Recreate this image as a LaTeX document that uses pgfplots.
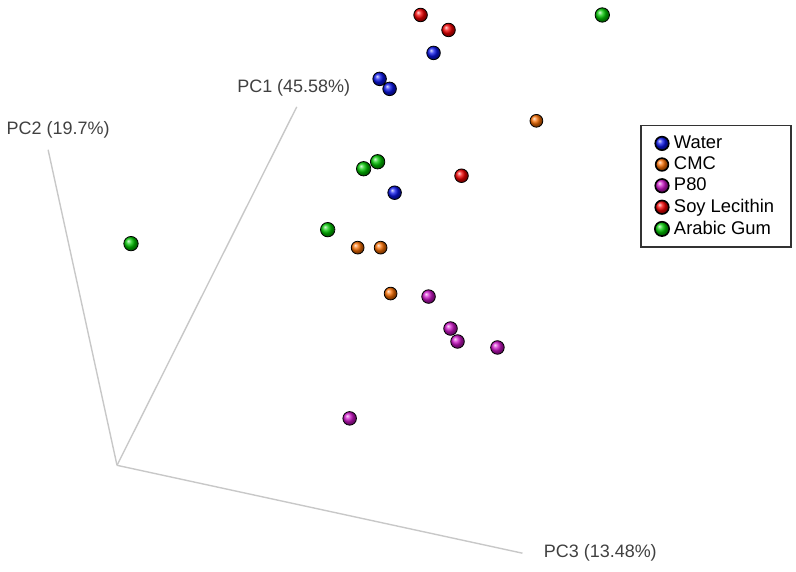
\documentclass[border=0pt]{standalone}
\usepackage{fontspec}
\setmainfont{Liberation Sans}
\usepackage{pgfplots}
\pgfplotsset{compat=1.18}
\definecolor{cWater}{RGB}{10,20,235}
\definecolor{cCMC}{RGB}{250,110,0}
\definecolor{cP80}{RGB}{205,20,200}
\definecolor{cSoy}{RGB}{245,0,0}
\definecolor{cGum}{RGB}{0,200,0}
\definecolor{axgray}{RGB}{200,200,200}
\begin{document}
\begin{tikzpicture}
\begin{axis}[
    width=398pt, height=286pt, scale only axis,
    xmin=0, xmax=796, ymin=0, ymax=572, y dir=reverse,
    hide axis, clip=false,
    legend style={at={(axis cs:640,125)}, anchor=north west,
        draw=black!80, line width=0.8pt,
        font=\fontsize{9.2}{10}\selectfont, row sep=-1.3pt,
        inner xsep=6.5pt, inner ysep=3pt},
    legend cell align=left,
]
% keep the full frame in the bounding box
\path (axis cs:0,0) (axis cs:796,572);
% the three projected PC axes
\addplot[axgray, line width=0.7pt, forget plot] coordinates {(116,466) (47,150)};
\addplot[axgray, line width=0.7pt, forget plot] coordinates {(116,466) (296,107)};
\addplot[axgray, line width=0.7pt, forget plot] coordinates {(116,466) (522,554)};

\node[font=\fontsize{9}{10}\selectfont, text=black!75] at (axis cs:57,130) {PC2 (19.7\%)};
\node[font=\fontsize{9}{10}\selectfont, text=black!75] at (axis cs:293,88) {PC1 (45.58\%)};
\node[font=\fontsize{9}{10}\selectfont, text=black!75] at (axis cs:600,554) {PC3 (13.48\%)};

% samples
\addplot[only marks, mark=ball, mark size=3.4pt, mark options={ball color=cWater}]
    coordinates {(433,53) (379,79) (389,89) (394,193)};
\addlegendentry{Water}
\addplot[only marks, mark=ball, mark size=3.2pt, mark options={ball color=cCMC}]
    coordinates {(536,121) (357,248) (380,248) (390,294)};
\addlegendentry{CMC}
\addplot[only marks, mark=ball, mark size=3.4pt, mark options={ball color=cP80}]
    coordinates {(428,297) (450,329) (457,342) (497,348) (349,419)};
\addlegendentry{P80}
\addplot[only marks, mark=ball, mark size=3.4pt, mark options={ball color=cSoy}]
    coordinates {(420,15) (448,30) (461,176)};
\addlegendentry{Soy Lecithin}
\addplot[only marks, mark=ball, mark size=3.6pt, mark options={ball color=cGum}]
    coordinates {(602,15) (377,162) (363,169) (327,230) (130,244)};
\addlegendentry{Arabic Gum}
\end{axis}
\end{tikzpicture}
\end{document}
